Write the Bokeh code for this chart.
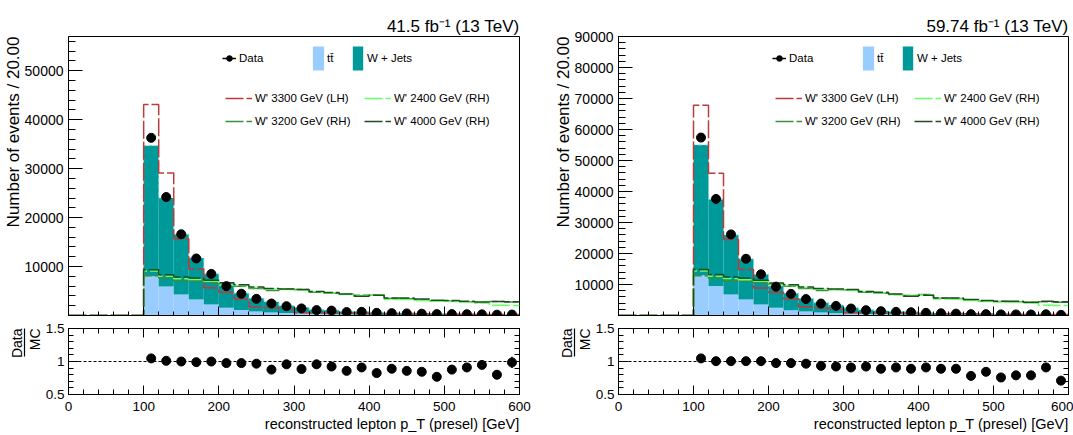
import math

from bokeh.embed import file_html
from bokeh.layouts import column, row
from bokeh.models import (ColumnDataSource, FixedTicker, Legend, LegendItem,
                          LinearAxis, NumeralTickFormatter, Range1d, Span, Title)
from bokeh.plotting import figure
from bokeh.resources import INLINE

FONT = "Liberation Sans"

# ---------------------------------------------------------------- binning
bin_lo = list(range(100, 600, 20))
bin_hi = [b + 20 for b in bin_lo]
bin_mid = [b + 10 for b in bin_lo]

x_major = [0, 100, 200, 300, 400, 500, 600]
x_minor = list(range(0, 601, 20))
ratio_major = [0.5, 1.0, 1.5]
ratio_minor = [0.6, 0.7, 0.8, 0.9, 1.1, 1.2, 1.3, 1.4]

# ---------------------------------------------------------------- 41.5 fb-1
lumi_17 = "41.5 fb\u207b\u00b9 (13 TeV)"
y_top_17 = 57000
y_major_17 = [10000, 20000, 30000, 40000, 50000]
y_minor_17 = list(range(0, 57001, 2000))

data_17 = [36300, 24200, 16600, 11650, 8500, 6000, 4450, 3400, 2450, 1900,
           1450, 1100, 1000, 700, 750, 540, 480, 420, 370, 290,
           290, 260, 230, 170, 190]
ttbar_17 = [8000, 5950, 4300, 3250, 2250, 1580, 1100, 820, 630, 490,
            390, 310, 245, 195, 155, 125, 100, 82, 68, 56,
            46, 38, 32, 27, 22]
wjets_17 = [26700, 18050, 12300, 8520, 6250, 4570, 3460, 2700, 2160, 1495,
            1250, 840, 835, 620, 670, 530, 440, 408, 370, 322,
            285, 248, 211, 186, 171]
wp3300lh_17 = [43100, 29100, 15700, 9500, 5650, 4750, 3400, 1770, 1560, 1250,
               550, 620, 480, 450, 420, 380, 350, 420, 380, 300,
               270, 240, 220, 190, 210]
wp2400rh_17 = [9100, 8000, 7530, 7330, 6990, 6310, 6150, 5700, 5400, 5300,
               5150, 4890, 4620, 4300, 4050, 4210, 3260, 3260, 3050, 2920,
               2850, 2710, 2580, 2100, 2050]
wp3200rh_17 = [8140, 7670, 6990, 6990, 6650, 6450, 5970, 5500, 5090, 5430,
               5290, 4750, 4550, 4350, 4140, 4210, 3450, 3400, 3200, 3000,
               2950, 2800, 2650, 2850, 2750]
wp4000rh_17 = [9360, 8350, 7870, 7670, 7190, 6700, 6300, 5840, 5500, 5430,
               5290, 4890, 4700, 4410, 3940, 4150, 3600, 3600, 3390, 3120,
               3050, 2920, 2780, 2850, 2800]
ratio_17 = [1.047, 1.01, 1.0, 0.99, 1.0, 0.976, 0.976, 0.967, 0.877, 0.957,
            0.886, 0.957, 0.924, 0.858, 0.91, 0.825, 0.89, 0.858, 0.844, 0.768,
            0.877, 0.91, 0.948, 0.80, 0.986]
ratio_err_17 = [0.008, 0.009, 0.011, 0.012, 0.014, 0.016, 0.019, 0.021, 0.024, 0.027,
                0.03, 0.033, 0.035, 0.038, 0.04, 0.042, 0.045, 0.048, 0.05, 0.052,
                0.055, 0.058, 0.062, 0.07, 0.085]

# ---------------------------------------------------------------- 59.74 fb-1
lumi_18 = "59.74 fb\u207b\u00b9 (13 TeV)"
y_top_18 = 90000
y_major_18 = [10000, 20000, 30000, 40000, 50000, 60000, 70000, 80000, 90000]
y_minor_18 = list(range(0, 90001, 2000))

data_18 = [57400, 37600, 26150, 18300, 13300, 9300, 6980, 5300, 3850, 3100,
           2250, 1710, 1390, 1180, 1050, 860, 700, 600, 430, 440,
           350, 340, 320, 380, 220]
ttbar_18 = [13000, 9500, 6800, 5150, 3550, 2480, 1720, 1280, 980, 760,
            600, 470, 370, 290, 230, 185, 150, 120, 100, 85,
            70, 58, 48, 40, 34]
wjets_18 = [42000, 28000, 19200, 13100, 9700, 7070, 5430, 4200, 3140, 2595,
            1870, 1380, 1190, 1010, 950, 760, 636, 554, 450, 436,
            392, 372, 357, 378, 276]
wp3300lh_18 = [67800, 45900, 24500, 14800, 8900, 7500, 5400, 2800, 2450, 2000,
               850, 950, 750, 700, 650, 600, 560, 650, 600, 480,
               430, 380, 350, 300, 330]
wp2400rh_18 = [14350, 12650, 11900, 11570, 11030, 9960, 9700, 9000, 8500, 8300,
               8100, 7710, 7290, 6800, 6430, 6600, 5360, 5360, 4820, 4500,
               4390, 4290, 4070, 3320, 3250]
wp3200rh_18 = [12860, 12120, 11030, 11030, 10500, 10200, 9430, 8680, 8040, 8400,
               8200, 7500, 7200, 6750, 6430, 6750, 5550, 5500, 5000, 4650,
               4500, 4450, 4200, 4400, 4300]
wp4000rh_18 = [14800, 13200, 12400, 12100, 11350, 10500, 9900, 9200, 8700, 8570,
               8360, 7710, 7500, 6970, 6200, 6500, 5680, 5680, 5140, 4820,
               4610, 4610, 4290, 4610, 4450]
ratio_18 = [1.047, 1.005, 1.005, 1.005, 1.005, 0.976, 0.976, 0.967, 0.934, 0.924,
            0.91, 0.924, 0.89, 0.91, 0.89, 0.91, 0.89, 0.89, 0.782, 0.844,
            0.758, 0.79, 0.79, 0.91, 0.71]
ratio_err_18 = [0.006, 0.007, 0.008, 0.009, 0.011, 0.013, 0.015, 0.017, 0.02, 0.022,
                0.024, 0.026, 0.028, 0.03, 0.032, 0.034, 0.036, 0.038, 0.04, 0.042,
                0.045, 0.048, 0.05, 0.06, 0.06]

# ---------------------------------------------------------------- colours
TT_COLOR = "#99ccff"
WJ_COLOR = "#009999"
WJ_EDGE = "#6fd8d8"
RED = "#bd3a3a"
LIGHT_GREEN = "#66ff66"
GREEN = "#3a8f3a"
DARK_GREEN = "#1f4d1f"

MAIN_H = 321
RATIO_H = 114


def style_ticks(ax, major_in, minor_in):
    ax.major_tick_in = major_in
    ax.major_tick_out = 0
    ax.minor_tick_in = minor_in
    ax.minor_tick_out = 0
    ax.axis_line_color = "black"
    ax.major_tick_line_color = "black"
    ax.minor_tick_line_color = "black"
    ax.major_label_text_font = FONT
    ax.major_label_text_color = "black"


def blank_labels(ax, ticks):
    ax.major_label_overrides = {t: "" for t in ticks}
    ax.major_label_text_font_size = "1px"
    ax.major_label_standoff = 0


def side_title(text, size, standoff):
    # axis title flush with the high end of its axis
    return Title(text=text, align="right", text_font=FONT, text_font_size=size,
                 text_font_style="normal", text_color="black", standoff=standoff,
                 offset=0)


def base_figure(width, height, y_range, border_left, border_right, border_top, border_bottom):
    p = figure(width=width, height=height, x_range=Range1d(0, 600), y_range=y_range,
               output_backend="svg", toolbar_location=None,
               min_border_left=border_left, min_border_right=border_right,
               min_border_top=border_top, min_border_bottom=border_bottom)
    p.xgrid.visible = False
    p.ygrid.visible = False
    p.outline_line_color = "black"
    p.outline_line_alpha = 1.0
    p.background_fill_color = "white"
    p.border_fill_color = "white"
    return p


def legend(items, x, y, glyph_w, glyph_h, standoff, spacing=0):
    return Legend(items=items, location=(x, y), orientation="vertical",
                  glyph_width=glyph_w, glyph_height=glyph_h, label_standoff=standoff,
                  label_height=glyph_h, spacing=spacing, padding=0, margin=0,
                  border_line_color=None, background_fill_alpha=0,
                  label_text_font=FONT, label_text_font_size="11.5px",
                  label_text_color="black")


def build_main(lumi, y_top, y_major, y_minor, data, ttbar, wjets,
               lh3300, rh2400, rh3200, rh4000, width, border_left, border_right):
    p = base_figure(width, MAIN_H, Range1d(0, y_top), border_left, border_right, 36, 6)
    p.title.text = lumi
    p.title.align = "right"
    p.title.text_font = FONT
    p.title.text_font_size = "17px"
    p.title.text_font_style = "normal"
    p.title.text_color = "black"
    p.title.standoff = 2

    # stacked backgrounds
    stack_top = [t + w for t, w in zip(ttbar, wjets)]
    src = ColumnDataSource(dict(lo=bin_lo, hi=bin_hi, tt=ttbar, top=stack_top))
    r_tt = p.quad(left="lo", right="hi", bottom=0, top="tt", source=src,
                  fill_color=TT_COLOR, line_color=None)
    r_wj = p.quad(left="lo", right="hi", bottom="tt", top="top", source=src,
                  fill_color=WJ_COLOR, line_color=None)
    p.step(x=[100] + bin_lo + [600], y=[0] + stack_top + [stack_top[-1]], mode="after",
           line_color=WJ_EDGE, line_width=1, line_dash="4 3")

    # signal hypotheses, drawn as open histograms over the full axis
    sig_x = [0] + bin_lo + [600]

    def sig(vals, color):
        return p.step(x=sig_x, y=[0] + vals + [vals[-1]], mode="after",
                      line_color=color, line_width=1.5, line_dash="18 3")

    r_lh = sig(lh3300, RED)
    r_g32 = sig(rh3200, GREEN)
    r_g24 = sig(rh2400, LIGHT_GREEN)
    r_g40 = sig(rh4000, DARK_GREEN)

    # data with Poisson uncertainties
    err = [math.sqrt(v) for v in data]
    r_err = p.segment(x0=bin_mid, y0=[d - e for d, e in zip(data, err)],
                      x1=bin_mid, y1=[d + e for d, e in zip(data, err)],
                      line_color="black", line_width=1.5)
    r_dat = p.scatter(x=bin_mid, y=data, size=9, fill_color="black", line_color="black")

    # axes
    xa = p.xaxis[0]
    xa.ticker = FixedTicker(ticks=x_major, minor_ticks=x_minor)
    style_ticks(xa, 9, 4)
    blank_labels(xa, x_major)

    ya = p.yaxis[0]
    ya.ticker = FixedTicker(ticks=y_major, minor_ticks=y_minor)
    ya.formatter = NumeralTickFormatter(format="0")
    style_ticks(ya, 14, 7)
    ya.major_label_text_font_size = "14px"
    ya.major_label_standoff = 5
    p.add_layout(side_title("Number of events / 20.00", "17px", -3), "left")

    # legend blocks
    fh = 315 - 36
    row1 = fh - 37
    sig_rows = fh - 95
    p.add_layout(legend([LegendItem(label="Data", renderers=[r_err, r_dat])],
                        154, row1, 14, 30, 3))
    p.add_layout(legend([LegendItem(label="tt\u0304", renderers=[r_tt])],
                        243, row1, 14, 30, 2))
    p.add_layout(legend([LegendItem(label="W + Jets", renderers=[r_wj])],
                        283, row1, 13, 30, 3))
    p.add_layout(legend([LegendItem(label="W' 3300 GeV (LH)", renderers=[r_lh]),
                         LegendItem(label="W' 3200 GeV (RH)", renderers=[r_g32])],
                        157, sig_rows, 27, 20, 3, spacing=3))
    p.add_layout(legend([LegendItem(label="W' 2400 GeV (RH)", renderers=[r_g24]),
                         LegendItem(label="W' 4000 GeV (RH)", renderers=[r_g40])],
                        296, sig_rows, 27, 20, 3, spacing=3))
    return p


def build_ratio(ratio, rerr, width, border_left, border_right):
    r = base_figure(width, RATIO_H, Range1d(0.5, 1.5), border_left, border_right, 7, 41)

    r.add_layout(Span(location=1.0, dimension="width", line_color="black",
                      line_width=1, line_dash="3 2"))
    r.segment(x0=bin_mid, y0=[v - e for v, e in zip(ratio, rerr)],
              x1=bin_mid, y1=[v + e for v, e in zip(ratio, rerr)],
              line_color="black", line_width=1.5)
    r.scatter(x=bin_mid, y=ratio, size=9, fill_color="black", line_color="black")

    xa = r.xaxis[0]
    xa.ticker = FixedTicker(ticks=x_major, minor_ticks=x_minor)
    style_ticks(xa, 9, 5)
    xa.major_label_text_font_size = "13.5px"
    xa.major_label_standoff = 7
    r.add_layout(side_title("reconstructed lepton p_T (presel) [GeV]", "14.5px", 1), "below")

    ya = r.yaxis[0]
    ya.ticker = FixedTicker(ticks=ratio_major, minor_ticks=ratio_minor)
    ya.major_label_overrides = {0.5: "0.5", 1.0: "1", 1.5: "1.5"}
    style_ticks(ya, 10, 5)
    ya.major_label_text_font_size = "13.5px"
    ya.major_label_standoff = 4

    # Data / MC written as a fraction: denominator, bar, numerator
    r.add_layout(side_title("MC", "14px", 0), "left")
    bar_ax = LinearAxis(ticker=FixedTicker(ticks=[]), bounds=(1.08, 1.5))
    style_ticks(bar_ax, 0, 0)
    bar_ax.axis_line_width = 1.2
    bar_ax.major_label_standoff = 0
    r.add_layout(bar_ax, "left")
    r.add_layout(side_title("Data", "14px", 0), "left")

    top_ax = LinearAxis(ticker=FixedTicker(ticks=x_major, minor_ticks=x_minor))
    style_ticks(top_ax, 9, 5)
    blank_labels(top_ax, x_major)
    r.add_layout(top_ax, "above")

    right_ax = LinearAxis(ticker=FixedTicker(ticks=ratio_major, minor_ticks=ratio_minor))
    style_ticks(right_ax, 10, 5)
    blank_labels(right_ax, ratio_major)
    r.add_layout(right_ax, "right")
    return r


main_17 = build_main(lumi_17, y_top_17, y_major_17, y_minor_17, data_17, ttbar_17, wjets_17,
                     wp3300lh_17, wp2400rh_17, wp3200rh_17, wp4000rh_17, 536, 68, 17)
ratio_17_fig = build_ratio(ratio_17, ratio_err_17, 536, 68, 17)
main_18 = build_main(lumi_18, y_top_18, y_major_18, y_minor_18, data_18, ttbar_18, wjets_18,
                     wp3300lh_18, wp2400rh_18, wp3200rh_18, wp4000rh_18, 537, 82, 5)
ratio_18_fig = build_ratio(ratio_18, ratio_err_18, 537, 82, 5)

page = row(column(main_17, ratio_17_fig), column(main_18, ratio_18_fig))

with open("out.html", "w") as fh_out:
    fh_out.write(file_html(page, INLINE))
